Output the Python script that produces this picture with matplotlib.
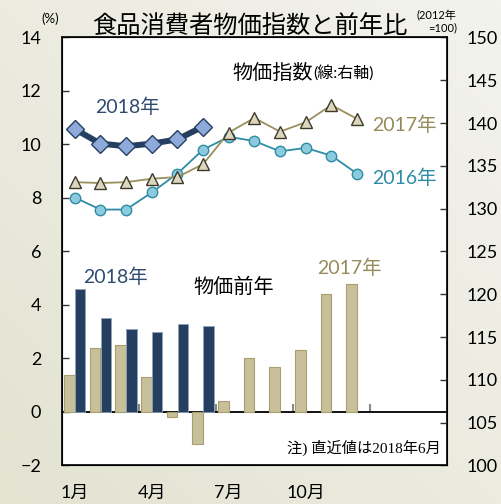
import numpy as np
import matplotlib
matplotlib.use("Agg")
import matplotlib.pyplot as plt

plt.rcParams['font.family'] = ['Lato', 'Noto Sans CJK JP', 'DejaVu Sans']

months = np.arange(1, 13)
month_labels = ['1月', '4月', '7月', '10月']
month_ticks = [1, 4, 7, 10]

# 前年比 (%), left axis
yoy_2017 = [1.4, 2.4, 2.5, 1.3, -0.2, -1.2, 0.4, 2.0, 1.7, 2.3, 4.4, 4.8]
yoy_2018 = [4.6, 3.5, 3.1, 3.0, 3.3, 3.2]

# 物価指数 (2012年=100), right axis
idx_2016 = [131.3, 129.9, 129.9, 131.9, 134.1, 136.9, 138.4, 137.9, 136.7, 137.1, 136.2, 134.1]
idx_2017 = [133.1, 133.0, 133.1, 133.5, 133.7, 135.2, 138.9, 140.6, 139.0, 140.1, 142.1, 140.5]
idx_2018 = [139.3, 137.6, 137.3, 137.6, 138.1, 139.6]

navy = '#243F60'
beige = '#C8C09A'
olive = '#968B5B'
teal = '#2E8CA5'

fig = plt.figure(figsize=(5.02, 5.04), dpi=100)

# soft gradient background
bg = fig.add_axes([0, 0, 1, 1], zorder=-10)
gx, gy = np.meshgrid(np.linspace(0, 1, 64), np.linspace(0, 1, 64))
g = (gx + (1 - gy)) / 2
c0 = np.array([0xE3, 0xE3, 0xD2]) / 255
c1 = np.array([0xF3, 0xF3, 0xEE]) / 255
img = c0[None, None, :] * (1 - g[..., None]) + c1[None, None, :] * g[..., None]
bg.imshow(img, aspect='auto', extent=[0, 1, 0, 1], origin='upper')
bg.axis('off')

ax = fig.add_axes([0.1235, 0.0764, 0.7665, 0.8492])
ax.set_facecolor('white')
w = 0.41
ax.bar(months - 0.21, yoy_2017, width=w, color=beige, edgecolor='#A89E70', linewidth=0.8, zorder=2)
ax.bar(months[:len(yoy_2018)] + 0.21, yoy_2018, width=w, color=navy, edgecolor='#8FA3BD', linewidth=0.6, zorder=2)

ax.set_xlim(0.5, 15.5)
ax.set_ylim(-2, 14)
ax.set_yticks(np.arange(-2, 15, 2))
ax.tick_params(axis='y', direction='in', length=5, width=1, color='#333333', pad=15, labelsize=13)
ax.set_xticks(month_ticks)
ax.set_xticklabels(month_labels)
ax.tick_params(axis='x', length=0, pad=14, labelsize=13)
for s in ax.spines.values():
    s.set_linewidth(1.3)
    s.set_color('#111111')

# zero line with small boundary ticks
zero = ax.secondary_xaxis(0, transform=ax.transData)
zero.set_xticks([3.5, 6.5, 9.5, 12.5])
zero.tick_params(direction='in', length=6, width=1.5, color='#888888', labelbottom=False)
zero.spines['bottom'].set_linewidth(1.3)
zero.spines['bottom'].set_color('black')

ax2 = ax.twinx()
ax2.set_ylim(100, 150)
ax2.set_yticks(np.arange(100, 151, 5))
ax2.tick_params(axis='y', direction='in', length=5, width=1, color='#333333', pad=14, labelsize=13)
ax2.plot(months, idx_2016, color=teal, lw=1.3, marker='o', ms=7.5,
         mfc='#8CCBDD', mec=teal, mew=1.0)
ax2.plot(months, idx_2017, color='#9A8F5E', lw=1.3, marker='^', ms=8,
         mfc='#DCD6BC', mec='#3D3A2C', mew=1.0)
ax2.plot(months[:len(idx_2018)], idx_2018, color=navy, lw=4.3, marker='D', ms=9.5,
         mfc='#8EAADA', mec=navy, mew=1.0, solid_capstyle='round')

t = ax.transAxes
ax.text(0.652, 0.919, '物価指数', transform=t, ha='right', va='center', fontsize=14.5)
ax.text(0.652, 0.917, '(線:右軸)', transform=t, ha='left', va='center', fontsize=11.5)
ax.text(0.169, 0.838, '2018年', transform=t, ha='center', va='center', fontsize=14, color='#2F4B70')
ax.text(0.806, 0.796, '2017年', transform=t, ha='left', va='center', fontsize=14, color=olive)
ax.text(0.806, 0.672, '2016年', transform=t, ha='left', va='center', fontsize=14, color=teal)
ax.text(0.138, 0.441, '2018年', transform=t, ha='center', va='center', fontsize=14, color='#2F4B70')
ax.text(0.447, 0.418, '物価前年', transform=t, ha='center', va='center', fontsize=14.5)
ax.text(0.747, 0.461, '2017年', transform=t, ha='center', va='center', fontsize=14, color=olive)
ax.text(0.984, 0.041, '注) 直近値は2018年6月', transform=t, ha='right', va='center', fontsize=11,
        family=['Liberation Serif', 'Noto Sans CJK JP'])

fig.text(0.498, 0.950, '食品消費者物価指数と前年比', ha='center', va='center', fontsize=17.5)
fig.text(0.099, 0.962, '(%)', ha='center', va='center', fontsize=9.5)
fig.text(0.910, 0.956, '(2012年\n=100)', ha='right', va='center', fontsize=8, linespacing=1.1)

fig.savefig('out.png', dpi=100)
